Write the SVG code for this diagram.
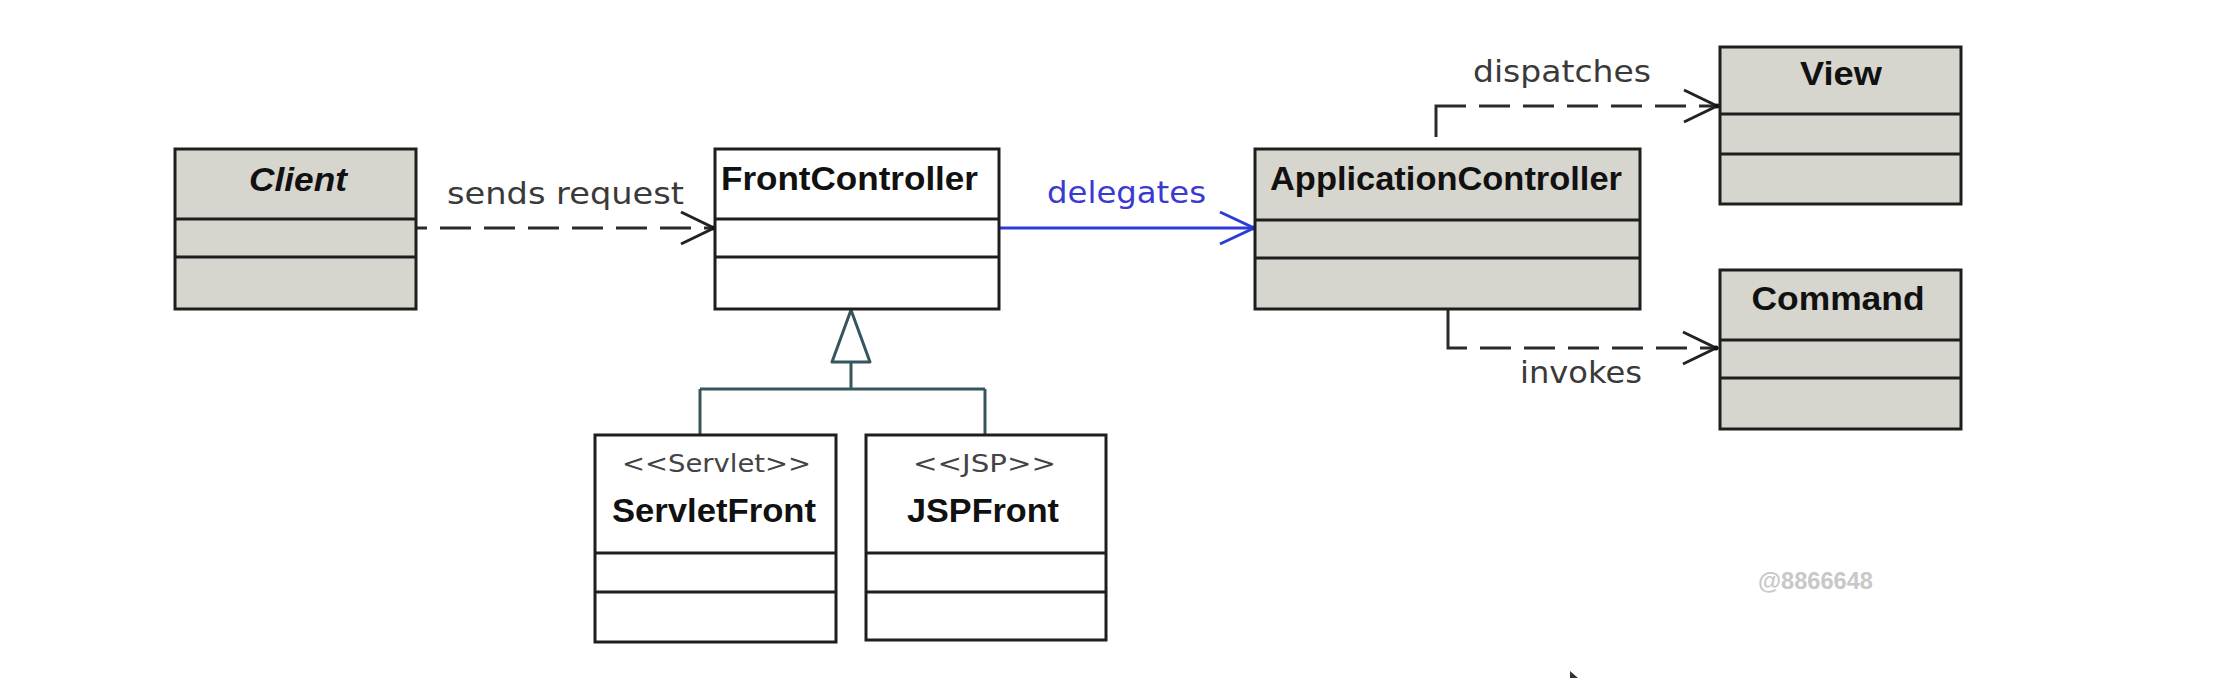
<svg xmlns="http://www.w3.org/2000/svg" width="2218" height="678" viewBox="0 0 2218 678">
<style>
.box{stroke:#1e1e1e;stroke-width:3}
.gray{fill:#d6d5ce}
.white{fill:#ffffff}
.div{stroke:#1e1e1e;stroke-width:3}
.name{font-family:"Liberation Sans",Arial,sans-serif;font-weight:bold;font-size:34px;fill:#111}
.stereo{font-family:"DejaVu Sans","Liberation Sans",sans-serif;font-size:25px;fill:#444}
.lbl{font-family:"DejaVu Sans","Liberation Sans",sans-serif;font-size:31px;fill:#3a3a3a}
.dash{fill:none;stroke:#2a2a2a;stroke-width:3;stroke-dasharray:31 13}
.solidblk{fill:none;stroke:#2a2a2a;stroke-width:3}
.blue{fill:none;stroke:#2c3cd6;stroke-width:3}
.gen{fill:none;stroke:#35555f;stroke-width:3}
</style>
<defs>
<marker id="arr" viewBox="-40 -20 44 40" refX="0" refY="0" markerWidth="44" markerHeight="40" markerUnits="userSpaceOnUse" orient="auto">
<path d="M-33,-16 L0,0 L-33,16" fill="none" stroke="#222" stroke-width="3" stroke-dasharray="none"/>
<circle cx="0" cy="0" r="2.5" fill="#111"/>
</marker>
<marker id="arrBlue" viewBox="-40 -20 44 40" refX="0" refY="0" markerWidth="44" markerHeight="40" markerUnits="userSpaceOnUse" orient="auto">
<path d="M-34,-16 L0,0 L-34,16" fill="none" stroke="#2c3cd6" stroke-width="3"/>
<circle cx="0" cy="0" r="2.5" fill="#1f2fd0"/>
</marker>
</defs>
<rect width="2218" height="678" fill="#ffffff"/>

<g id="connectors">
<path class="dash" d="M416,228 L714,228" style="stroke-dashoffset:20" marker-end="url(#arr)"/>
<path class="blue" d="M999,228 L1254,228" marker-end="url(#arrBlue)"/>
<path class="solidblk" d="M1436,137 L1436,106 L1466,106"/>
<path class="dash" d="M1466,106 L1717,106" style="stroke-dashoffset:-13" marker-end="url(#arr)"/>
<path class="solidblk" d="M1448,310 L1448,348 L1467,348"/>
<path class="dash" d="M1467,348 L1716,348" style="stroke-dashoffset:-13" marker-end="url(#arr)"/>
<polygon points="851,310 832,362 870,362" fill="#ffffff" stroke="#35555f" stroke-width="3" stroke-linejoin="round"/>
<path class="gen" d="M851,362 L851,389 M700,389 L985,389 M700,389 L700,435 M985,389 L985,435"/>
</g>

<g id="client">
<rect class="box gray" x="175" y="149" width="241" height="160"/>
<line class="div" x1="175" y1="219" x2="416" y2="219"/>
<line class="div" x1="175" y1="257" x2="416" y2="257"/>
<text class="name" x="298" y="191" text-anchor="middle" font-style="italic" textLength="98" lengthAdjust="spacingAndGlyphs">Client</text>
</g>

<g id="frontcontroller">
<rect class="box white" x="715" y="149" width="284" height="160"/>
<line class="div" x1="715" y1="219" x2="999" y2="219"/>
<line class="div" x1="715" y1="257" x2="999" y2="257"/>
<text class="name" x="721" y="190" textLength="257" lengthAdjust="spacingAndGlyphs">FrontController</text>
</g>

<g id="applicationcontroller">
<rect class="box gray" x="1255" y="149" width="385" height="160"/>
<line class="div" x1="1255" y1="220" x2="1640" y2="220"/>
<line class="div" x1="1255" y1="258" x2="1640" y2="258"/>
<text class="name" x="1270" y="190" textLength="352" lengthAdjust="spacingAndGlyphs">ApplicationController</text>
</g>

<g id="view">
<rect class="box gray" x="1720" y="47" width="241" height="157"/>
<line class="div" x1="1720" y1="114" x2="1961" y2="114"/>
<line class="div" x1="1720" y1="154" x2="1961" y2="154"/>
<text class="name" x="1841" y="85" text-anchor="middle" textLength="82" lengthAdjust="spacingAndGlyphs">View</text>
</g>

<g id="command">
<rect class="box gray" x="1720" y="270" width="241" height="159"/>
<line class="div" x1="1720" y1="340" x2="1961" y2="340"/>
<line class="div" x1="1720" y1="378" x2="1961" y2="378"/>
<text class="name" x="1838" y="310" text-anchor="middle" textLength="173" lengthAdjust="spacingAndGlyphs">Command</text>
</g>

<g id="servletfront">
<rect class="box white" x="595" y="435" width="241" height="207"/>
<line class="div" x1="595" y1="553" x2="836" y2="553"/>
<line class="div" x1="595" y1="592" x2="836" y2="592"/>
<text class="stereo" x="622" y="472" textLength="189" lengthAdjust="spacingAndGlyphs">&lt;&lt;Servlet&gt;&gt;</text>
<text class="name" x="612" y="522" textLength="204" lengthAdjust="spacingAndGlyphs">ServletFront</text>
</g>

<g id="jspfront">
<rect class="box white" x="866" y="435" width="240" height="205"/>
<line class="div" x1="866" y1="553" x2="1106" y2="553"/>
<line class="div" x1="866" y1="592" x2="1106" y2="592"/>
<text class="stereo" x="913" y="472" textLength="143" lengthAdjust="spacingAndGlyphs">&lt;&lt;JSP&gt;&gt;</text>
<text class="name" x="907" y="522" textLength="152" lengthAdjust="spacingAndGlyphs">JSPFront</text>
</g>

<g id="labels">
<text class="lbl" x="447" y="204" textLength="237" lengthAdjust="spacingAndGlyphs">sends request</text>
<text class="lbl" x="1047" y="203" textLength="159" lengthAdjust="spacingAndGlyphs" style="fill:#3a3ad2">delegates</text>
<text class="lbl" x="1473" y="82" textLength="178" lengthAdjust="spacingAndGlyphs">dispatches</text>
<text class="lbl" x="1520" y="383" textLength="122" lengthAdjust="spacingAndGlyphs">invokes</text>
</g>

<text x="1758" y="589" font-family="Liberation Sans, Arial, sans-serif" font-weight="bold" font-size="24" fill="#c8c8c8" textLength="115" lengthAdjust="spacingAndGlyphs">@8866648</text>
<polygon points="1570,671 1570,678 1578,678" fill="#333333"/>
</svg>
